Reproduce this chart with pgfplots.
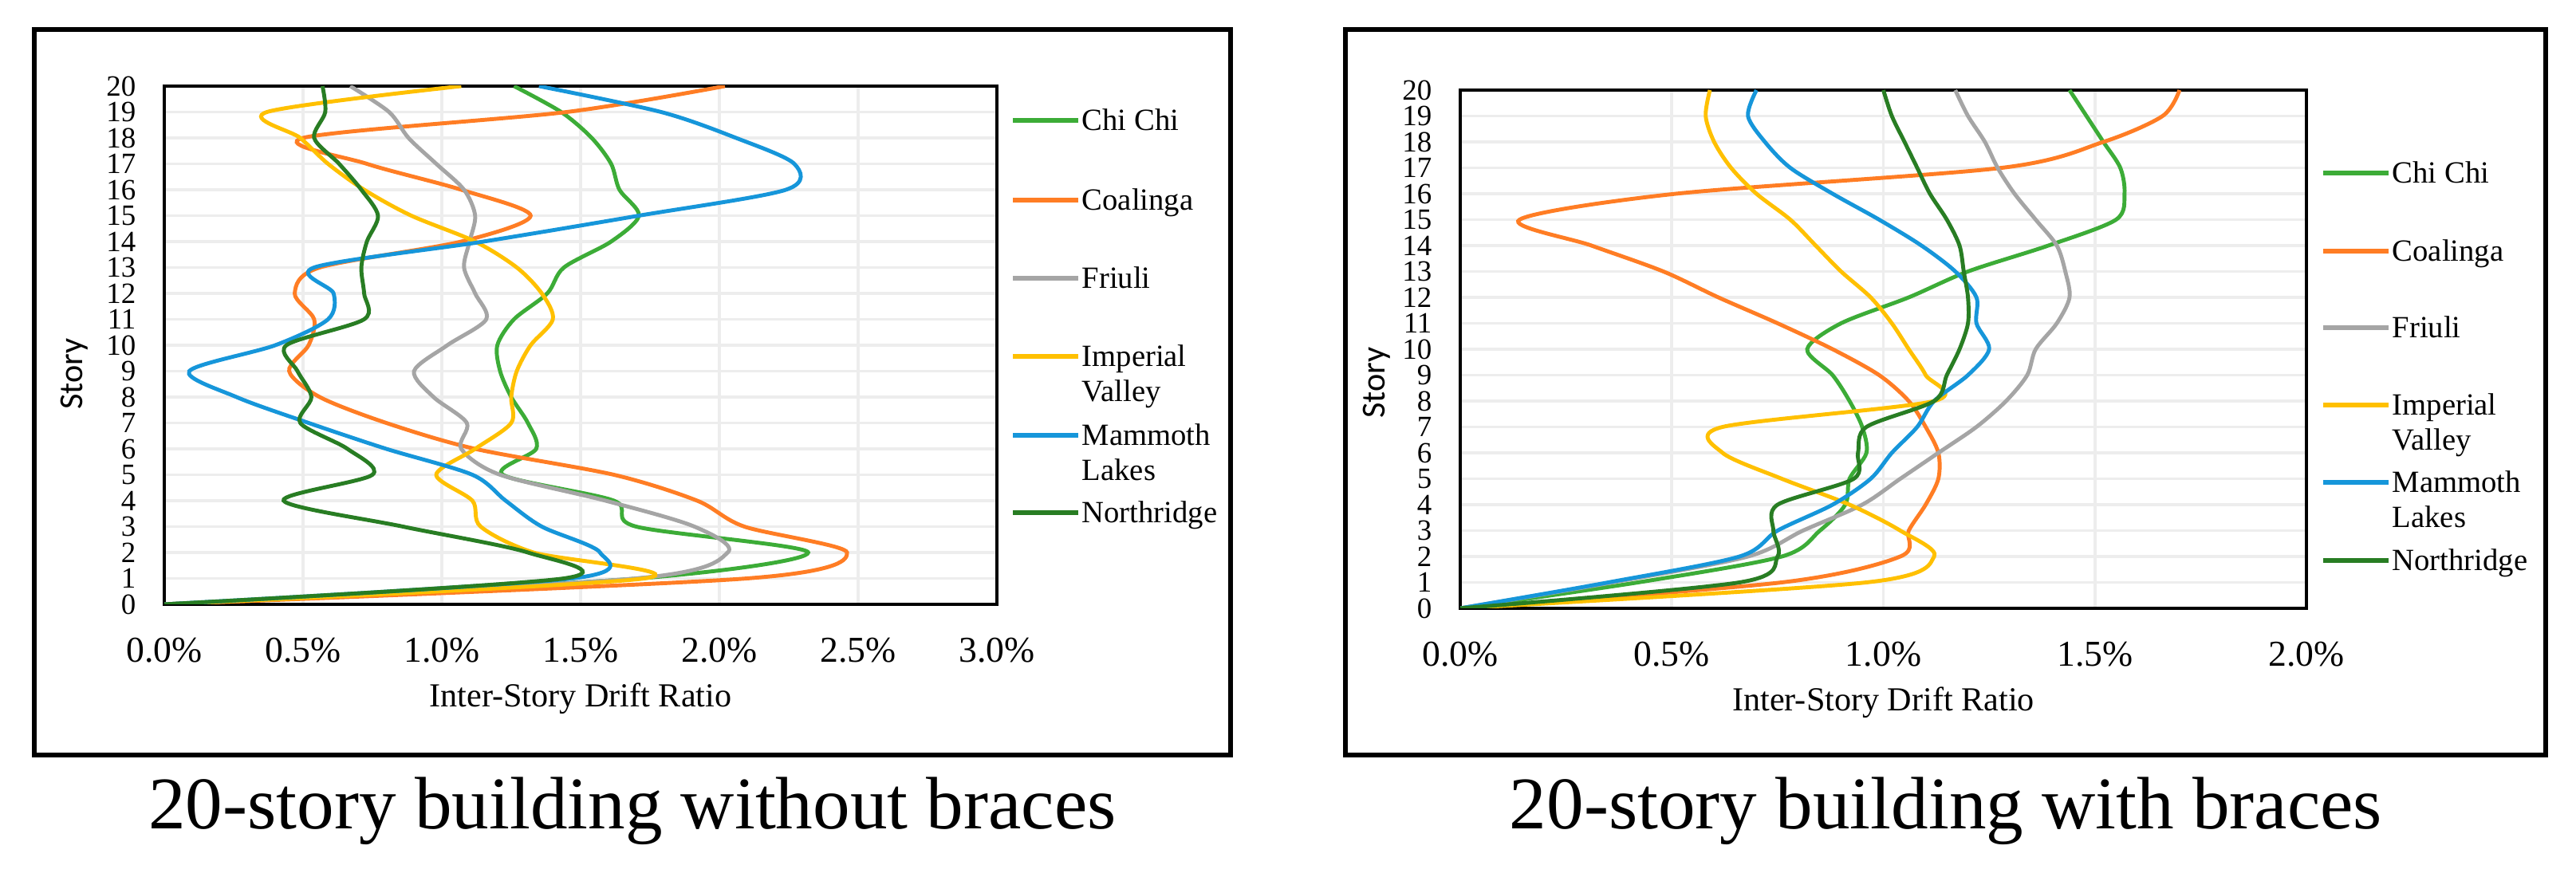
\documentclass[border=0pt]{standalone}
\usepackage{fontspec}
\setmainfont{Liberation Serif}
\newfontfamily\calibri{Carlito}
\usepackage{pgfplots}
\pgfplotsset{compat=1.18}

\definecolor{chichi}{RGB}{60,172,55}
\definecolor{coalinga}{RGB}{255,125,36}
\definecolor{friuli}{RGB}{165,165,165}
\definecolor{imperial}{RGB}{255,192,0}
\definecolor{mammoth}{RGB}{22,150,218}
\definecolor{northridge}{RGB}{40,125,35}

\pgfplotsset{drift/.style={
  scale only axis, anchor=south west, height=6.5cm,
  ymin=0, ymax=20, ytick={0,1,...,20}, xmin=0,
  grid=major, major grid style={draw=black!7, line width=1.1pt},
  axis line style={line width=1pt, black},
  major tick length=0pt,
  /pgf/number format/assume math mode=true,
  xticklabel={\pgfmathprintnumber[fixed,fixed zerofill,precision=1]{\tick}\%},
  xticklabel style={anchor=center, yshift=-0.58cm, font=\fontsize{13}{15}\selectfont},
  yticklabel style={anchor=east, inner sep=0pt, xshift=-0.35cm, font=\fontsize{10.5}{11}\selectfont},
  xlabel={Inter-Story Drift Ratio},
  xlabel style={at={(axis description cs:0.5,-0.1815)}, anchor=center, font=\fontsize{12}{14}\selectfont},
  ylabel={Story},
  ylabel style={anchor=center, font=\calibri\fontsize{12}{14}\selectfont},
  every axis plot/.append style={line width=1.4pt, smooth, tension=0.5, no markers},
}}

% legend line + text, text baseline a bit under the line
\newcommand{\legitem}[4]{%
  \draw[#3, line width=1.5pt] (#1,#2) -- ++(0.82,0);
  \node[anchor=base west, inner sep=0pt, font=\fontsize{11}{12.3}\selectfont]
    at (#1+0.86,#2-0.13) {#4};}

\begin{document}
\begin{tikzpicture}
\useasboundingbox (0,0) rectangle (32.3,11);

% ---------- without braces ----------
\begin{axis}[drift, at={(2.06cm,3.42cm)}, width=10.44cm,
  xmax=3, xtick={0,0.5,...,3},
  ylabel style={at={(axis description cs:-0.108,0.445)}}]
\addplot[chichi] coordinates {(0,0)(1.71,1)(2.32,2)(1.70,3)(1.62,4)(1.22,5)(1.34,6)(1.31,7)(1.25,8)(1.21,9)(1.20,10)(1.26,11)(1.38,12)(1.44,13)(1.61,14)(1.71,15)(1.64,16)(1.61,17)(1.54,18)(1.43,19)(1.26,20)};
\addplot[coalinga] coordinates {(0,0)(2.10,1)(2.46,2)(2.09,3)(1.92,4)(1.62,5)(1.12,6)(0.80,7)(0.56,8)(0.45,9)(0.52,10)(0.54,11)(0.47,12)(0.56,13)(1.07,14)(1.32,15)(1.07,16)(0.73,17)(0.50,18)(1.45,19)(2.02,20)};
\addplot[friuli] coordinates {(0,0)(1.70,1)(2.03,2)(1.91,3)(1.59,4)(1.21,5)(1.07,6)(1.09,7)(0.97,8)(0.90,9)(1.02,10)(1.16,11)(1.12,12)(1.08,13)(1.10,14)(1.12,15)(1.08,16)(0.98,17)(0.88,18)(0.81,19)(0.67,20)};
\addplot[imperial] coordinates {(0,0)(1.73,1)(1.33,2)(1.14,3)(1.11,4)(0.98,5)(1.12,6)(1.25,7)(1.25,8)(1.27,9)(1.32,10)(1.40,11)(1.36,12)(1.27,13)(1.12,14)(0.89,15)(0.72,16)(0.59,17)(0.49,18)(0.37,19)(1.07,20)};
\addplot[mammoth] coordinates {(0,0)(1.47,1)(1.57,2)(1.36,3)(1.23,4)(1.11,5)(0.80,6)(0.52,7)(0.26,8)(0.09,9)(0.40,10)(0.59,11)(0.61,12)(0.54,13)(1.15,14)(1.71,15)(2.24,16)(2.27,17)(2.06,18)(1.79,19)(1.35,20)};
\addplot[northridge] coordinates {(0,0)(1.44,1)(1.31,2)(0.86,3)(0.43,4)(0.75,5)(0.66,6)(0.49,7)(0.53,8)(0.48,9)(0.44,10)(0.72,11)(0.72,12)(0.71,13)(0.73,14)(0.77,15)(0.71,16)(0.63,17)(0.54,18)(0.58,19)(0.57,20)};
\end{axis}

\legitem{12.70}{9.49}{chichi}{Chi Chi}
\legitem{12.70}{8.49}{coalinga}{Coalinga}
\legitem{12.70}{7.51}{friuli}{Friuli}
\legitem{12.70}{6.53}{imperial}{\vtop{\hbox{Imperial}\hbox{Valley}}}
\legitem{12.70}{5.54}{mammoth}{\vtop{\hbox{Mammoth}\hbox{Lakes}}}
\legitem{12.70}{4.57}{northridge}{Northridge}

\draw[line width=1.7pt] (0.43,1.53) rectangle (15.43,10.63);
\node[anchor=base, font=\fontsize{26.5}{30}\selectfont] at (7.93,0.60) {20-story building without braces};

% ---------- with braces ----------
\begin{axis}[drift, at={(18.31cm,3.37cm)}, width=10.61cm,
  xmax=2, xtick={0,0.5,...,2},
  ylabel style={at={(axis description cs:-0.099,0.435)}}]
\addplot[chichi] coordinates {(0,0)(0.42,1)(0.76,2)(0.85,3)(0.91,4)(0.92,5)(0.96,6)(0.95,7)(0.92,8)(0.88,9)(0.82,10)(0.90,11)(1.06,12)(1.20,13)(1.39,14)(1.55,15)(1.57,16)(1.56,17)(1.52,18)(1.48,19)(1.44,20)};
\addplot[coalinga] coordinates {(0,0)(0.76,1)(1.04,2)(1.06,3)(1.10,4)(1.13,5)(1.13,6)(1.10,7)(1.06,8)(0.99,9)(0.88,10)(0.75,11)(0.61,12)(0.48,13)(0.31,14)(0.14,15)(0.51,16)(1.28,17)(1.52,18)(1.66,19)(1.70,20)};
\addplot[friuli] coordinates {(0,0)(0.36,1)(0.68,2)(0.81,3)(0.95,4)(1.04,5)(1.13,6)(1.22,7)(1.29,8)(1.34,9)(1.36,10)(1.41,11)(1.44,12)(1.43,13)(1.41,14)(1.36,15)(1.31,16)(1.27,17)(1.24,18)(1.20,19)(1.17,20)};
\addplot[imperial] coordinates {(0,0)(0.96,1)(1.12,2)(1.04,3)(0.92,4)(0.76,5)(0.62,6)(0.62,7)(1.12,8)(1.10,9)(1.06,10)(1.02,11)(0.97,12)(0.90,13)(0.84,14)(0.78,15)(0.70,16)(0.64,17)(0.60,18)(0.58,19)(0.59,20)};
\addplot[mammoth] coordinates {(0,0)(0.35,1)(0.66,2)(0.75,3)(0.88,4)(0.97,5)(1.02,6)(1.08,7)(1.12,8)(1.20,9)(1.25,10)(1.22,11)(1.22,12)(1.17,13)(1.09,14)(0.99,15)(0.88,16)(0.78,17)(0.72,18)(0.68,19)(0.70,20)};
\addplot[northridge] coordinates {(0,0)(0.66,1)(0.75,2)(0.74,3)(0.75,4)(0.93,5)(0.94,6)(0.96,7)(1.12,8)(1.15,9)(1.18,10)(1.20,11)(1.20,12)(1.19,13)(1.18,14)(1.15,15)(1.11,16)(1.08,17)(1.05,18)(1.02,19)(1.00,20)};
\end{axis}

\legitem{29.13}{8.83}{chichi}{Chi Chi}
\legitem{29.13}{7.85}{coalinga}{Coalinga}
\legitem{29.13}{6.89}{friuli}{Friuli}
\legitem{29.13}{5.92}{imperial}{\vtop{\hbox{Imperial}\hbox{Valley}}}
\legitem{29.13}{4.95}{mammoth}{\vtop{\hbox{Mammoth}\hbox{Lakes}}}
\legitem{29.13}{3.97}{northridge}{Northridge}

\draw[line width=1.7pt] (16.87,1.53) rectangle (31.92,10.63);
\node[anchor=base, font=\fontsize{26.5}{30}\selectfont] at (24.40,0.60) {20-story building with braces};
\end{tikzpicture}
\end{document}
